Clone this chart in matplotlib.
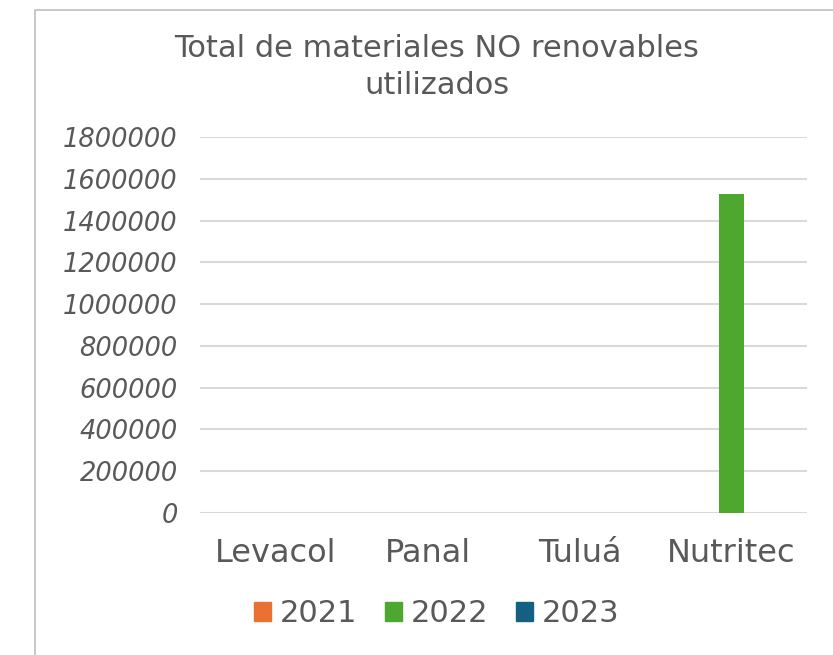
import matplotlib
matplotlib.use("Agg")
import matplotlib.pyplot as plt
import numpy as np
from matplotlib.patches import Rectangle

categories = ["Levacol", "Panal", "Tuluá", "Nutritec"]
years = ["2021", "2022", "2023"]
values_2021 = [0, 0, 0, 0]
values_2022 = [0, 0, 0, 1525000]
values_2023 = [0, 0, 0, 0]
yticks = [0, 200000, 400000, 600000, 800000, 1000000, 1200000, 1400000, 1600000, 1800000]
colors = ["#E97132", "#4EA72E", "#156082"]
title = "Total de materiales NO renovables\nutilizados"

plt.rcParams['font.family'] = ['DejaVu Sans']
text_color = "#595959"

fig = plt.figure(figsize=(8.33, 6.55), dpi=100)
fig.patch.set_facecolor("white")

# chart frame (left + top visible)
fig.patches.append(Rectangle((35/833, -0.1), 1.0, 1 - 10/655 + 0.1, transform=fig.transFigure,
                             fill=False, edgecolor="#BFBFBF", linewidth=1.2))

ax = fig.add_axes([200/833, 1 - 513/655, (807 - 200)/833, (513 - 137)/655])
x = np.arange(len(categories))
w = 0.165
series = [values_2021, values_2022, values_2023]
for i, (yr, vals) in enumerate(zip(years, series)):
    ax.bar(x + (i - 1) * w, vals, width=w, color=colors[i], label=yr, zorder=3)

ax.set_xlim(-0.5, len(categories) - 0.5)
ax.set_ylim(0, 1800000)
ax.set_yticks(yticks)
ax.set_yticklabels([str(v) for v in yticks], fontsize=18.5, style="italic", color=text_color)
ax.set_xticks(x)
ax.set_xticklabels(categories, fontsize=23, color=text_color)
ax.tick_params(axis="both", length=0)
ax.tick_params(axis="y", pad=16)
ax.tick_params(axis="x", pad=18)
ax.grid(axis="y", color="#D9D9D9", linewidth=1.5, zorder=0)
for s in ax.spines.values():
    s.set_visible(False)

fig.text(437/833, 1 - 67/655, title, ha="center", va="center", fontsize=22,
         color=text_color, linespacing=1.32)

handles = [Rectangle((0, 0), 1, 1, color=c) for c in colors]
leg = fig.legend(handles, years, loc="center", bbox_to_anchor=(437/833, 1 - 614/655),
                 ncol=3, frameon=False, fontsize=22, handlelength=0.55, handleheight=0.55,
                 handletextpad=0.3, columnspacing=0.9)
for t in leg.get_texts():
    t.set_color(text_color)

fig.savefig("out.png", dpi=100, facecolor="white")
